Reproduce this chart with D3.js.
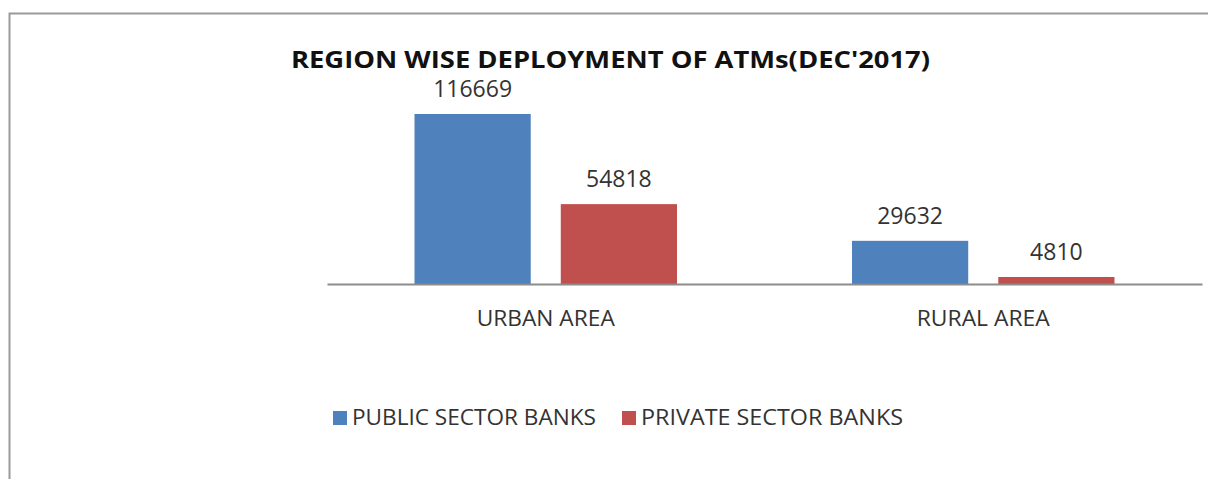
<!DOCTYPE html>
<html>
<head>
<meta charset="utf-8">
<script src="https://cdn.jsdelivr.net/npm/d3@7"></script>
<style>
  body { margin: 0; background: #fff; }
  svg text { font-family: 'Open Sans', 'Noto Sans', sans-serif; }
</style>
</head>
<body>
<div id="chart"></div>
<script>
// data
const categories = ['URBAN AREA', 'RURAL AREA'];
const seriesNames = ['PUBLIC SECTOR BANKS', 'PRIVATE SECTOR BANKS'];
const publicValues = [116669, 29632];
const privateValues = [54818, 4810];
const colors = ['#4f81bd', '#c0504d'];

const W = 1208, H = 479;
const svg = d3.select('#chart').append('svg')
  .attr('width', W)
  .attr('height', H);

// frame (top + left edge visible)
svg.append('path')
  .attr('d', `M9.5,${H} V13.5 H${W}`)
  .attr('fill', 'none')
  .attr('stroke', '#9a9a9a')
  .attr('stroke-width', 2);

const plot = { left: 327, right: 1202, base: 284 };

const x0 = d3.scaleBand()
  .domain(categories)
  .range([plot.left, plot.right])
  .paddingInner(0)
  .paddingOuter(0);

// two bars of ~116px with a 30px gap, centred in each category
const x1 = d3.scaleBand()
  .domain(seriesNames)
  .range([87.5, x0.bandwidth() - 87.5])
  .paddingInner(30 / 146);

const y = d3.scaleLinear()
  .domain([0, 116669])
  .range([plot.base, 114]);

const rows = categories.map((c, i) => ({
  cat: c,
  vals: [
    { name: seriesNames[0], v: publicValues[i], color: colors[0] },
    { name: seriesNames[1], v: privateValues[i], color: colors[1] }
  ]
}));

const groups = svg.selectAll('g.grp')
  .data(rows)
  .enter()
  .append('g')
  .attr('class', 'grp')
  .attr('transform', d => `translate(${x0(d.cat)},0)`);

groups.selectAll('rect')
  .data(d => d.vals)
  .enter()
  .append('rect')
  .attr('x', d => x1(d.name))
  .attr('y', d => y(d.v))
  .attr('width', x1.bandwidth())
  .attr('height', d => plot.base - y(d.v))
  .attr('fill', d => d.color);

groups.selectAll('text.val')
  .data(d => d.vals)
  .enter()
  .append('text')
  .attr('class', 'val')
  .attr('x', d => x1(d.name) + x1.bandwidth() / 2)
  .attr('y', d => y(d.v) - 17)
  .attr('text-anchor', 'middle')
  .attr('font-size', '23px')
  .attr('fill', '#333')
  .text(d => d3.format('d')(d.v));

// x axis: baseline and category labels
const catWidths = [138, 133];
const xAxis = svg.append('g')
  .attr('transform', `translate(0,${plot.base})`)
  .call(d3.axisBottom(x0).tickSize(0));
xAxis.select('.domain').attr('stroke', '#8c8c8c').attr('stroke-width', 2);
xAxis.selectAll('text')
  .attr('y', 42)
  .attr('dy', 0)
  .attr('font-size', '21px')
  .attr('fill', '#333')
  .attr('textLength', (d, i) => catWidths[i])
  .attr('lengthAdjust', 'spacingAndGlyphs');

// title
svg.append('text')
  .attr('x', 291)
  .attr('y', 68)
  .attr('font-size', '23px')
  .attr('font-weight', 'bold')
  .attr('fill', '#111')
  .attr('textLength', 639)
  .attr('lengthAdjust', 'spacingAndGlyphs')
  .text("REGION WISE DEPLOYMENT OF ATMs(DEC'2017)");

// legend
const legendX = [333, 622];
const legendW = [244, 262];
const legend = svg.selectAll('g.leg')
  .data(seriesNames)
  .enter()
  .append('g')
  .attr('class', 'leg')
  .attr('transform', (d, i) => `translate(${legendX[i]},411)`);

legend.append('rect')
  .attr('width', 14)
  .attr('height', 14)
  .attr('fill', (d, i) => colors[i]);

legend.append('text')
  .attr('x', 19)
  .attr('y', 14)
  .attr('font-size', '21px')
  .attr('fill', '#333')
  .attr('textLength', (d, i) => legendW[i])
  .attr('lengthAdjust', 'spacingAndGlyphs')
  .text(d => d);
</script>
</body>
</html>
